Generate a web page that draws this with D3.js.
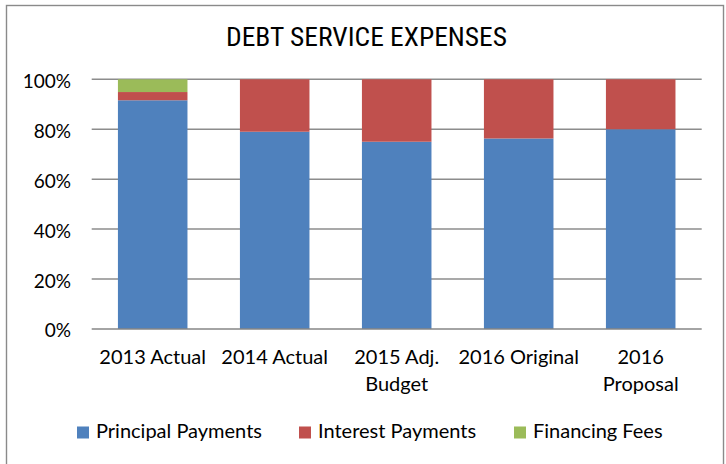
<!DOCTYPE html>
<html>
<head>
<meta charset="utf-8">
<script src="https://cdn.jsdelivr.net/npm/d3@7"></script>
<style>
  html, body { margin: 0; padding: 0; background: #fff; }
  svg { display: block; }
</style>
</head>
<body>
<svg id="chart" width="726" height="464"></svg>
<script>
// Debt service expenses, share of total by category (percent)
const categories = [["2013 Actual"], ["2014 Actual"], ["2015 Adj.", "Budget"], ["2016 Original"], ["2016", "Proposal"]];
const principal = [91.6, 79.0, 75.0, 76.3, 80.0];
const interest  = [3.3, 21.0, 25.0, 23.7, 20.0];
const fees      = [5.1, 0, 0, 0, 0];
const seriesNames = ["Principal Payments", "Interest Payments", "Financing Fees"];
const seriesColors = ["#4F81BD", "#C0504D", "#9BBB59"];
const yTicks = [0, 20, 40, 60, 80, 100];

const svg = d3.select("#chart");
const font = "Lato, 'Open Sans', sans-serif";

// outer frame
svg.append("rect").attr("x", 6.5).attr("y", 5.5).attr("width", 717).attr("height", 470)
  .attr("fill", "#fff").attr("stroke", "#8a8a8a").attr("stroke-width", 1.4);

// title
svg.append("text").attr("x", 366.5).attr("y", 46).attr("text-anchor", "middle")
  .attr("font-family", "'Liberation Sans Narrow', 'Arial Narrow', 'Roboto Condensed', sans-serif")
  .attr("font-size", 25).attr("fill", "#000")
  .attr("textLength", 281).attr("lengthAdjust", "spacingAndGlyphs")
  .text("DEBT SERVICE EXPENSES");

const plotL = 91.7, plotR = 701.7, plotT = 79.3, plotB = 329;
const keys = categories.map(c => c.join(" "));
const x = d3.scaleBand().domain(keys).range([plotL, plotR]).paddingInner(0.43).paddingOuter(0.215);
const y = d3.scaleLinear().domain([0, 100]).range([plotB, plotT]);

// gridlines
svg.append("g").selectAll("line").data(yTicks.filter(t => t > 0)).join("line")
  .attr("x1", plotL).attr("x2", plotR)
  .attr("y1", d => y(d)).attr("y2", d => y(d))
  .attr("stroke", "#8c8c8c").attr("stroke-width", 1.5);

// y-axis labels
const yAxis = d3.axisLeft(y).tickValues(yTicks).tickFormat(d => d + "%").tickSize(0).tickPadding(0);
const gy = svg.append("g").attr("transform", `translate(71,0)`).call(yAxis);
gy.select(".domain").remove();
gy.selectAll("text").attr("font-family", font).attr("font-size", 19).attr("fill", "#000").attr("dy", "0.42em");

// stacked bars
const rows = keys.map((k, i) => ({ key: k, p: principal[i], i_: interest[i], f: fees[i] }));
const stack = d3.stack().keys(["p", "i_", "f"])(rows);
svg.append("g").selectAll("g").data(stack).join("g")
  .attr("fill", (d, i) => seriesColors[i])
  .selectAll("rect").data(d => d).join("rect")
  .attr("x", d => x(d.data.key))
  .attr("width", x.bandwidth())
  .attr("y", d => y(d[1]))
  .attr("height", d => y(d[0]) - y(d[1]));

// baseline
svg.append("line").attr("x1", plotL).attr("x2", plotR).attr("y1", plotB).attr("y2", plotB)
  .attr("stroke", "#868686").attr("stroke-width", 1.6);

// x-axis labels
const gx = svg.append("g");
categories.forEach((lines, i) => {
  const cx = x(keys[i]) + x.bandwidth() / 2;
  const t = gx.append("text").attr("x", cx).attr("y", 364)
    .attr("text-anchor", "middle").attr("font-family", font).attr("font-size", 20).attr("fill", "#000");
  lines.forEach((ln, j) => t.append("tspan").attr("x", cx).attr("dy", j === 0 ? 0 : 27).text(ln));
});

// legend
const legendX = [77, 299, 514];
const lg = svg.append("g");
seriesNames.forEach((name, i) => {
  lg.append("rect").attr("x", legendX[i]).attr("y", 426.5).attr("width", 12).attr("height", 12).attr("fill", seriesColors[i]);
  lg.append("text").attr("x", legendX[i] + 19).attr("y", 437.5).attr("font-family", font)
    .attr("font-size", 20).attr("fill", "#000").text(name);
});
</script>
</body>
</html>
